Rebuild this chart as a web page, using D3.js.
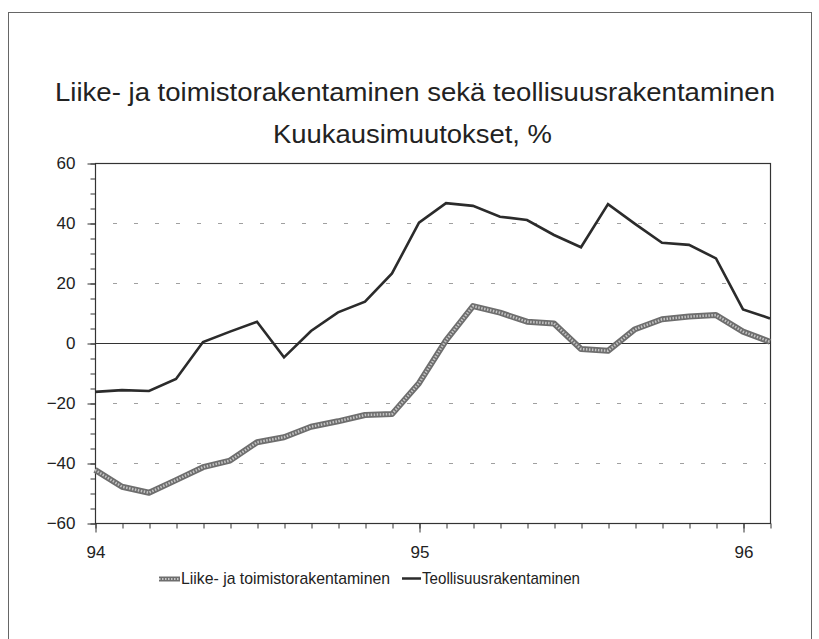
<!DOCTYPE html>
<html>
<head>
<meta charset="utf-8">
<script src="https://cdn.jsdelivr.net/npm/d3@7"></script>
<style>
body { margin: 0; background: #fff; }
text { font-family: "Liberation Sans Narrow", "Arial Narrow", "Liberation Sans", Arial, sans-serif; fill: #222; }
</style>
</head>
<body>
<div id="chart"></div>
<script>
var width = 819;
var height = 639;

// monthly values, Jan 94 .. Feb 96
var months = d3.range(26);
var liike = [-42.3, -47.9, -49.9, -45.7, -41.4, -39.2, -33.1, -31.4, -27.9, -26.1, -24, -23.7,
             -13.4, 0.9, 12.3, 10.1, 7.1, 6.5, -2, -2.6, 4.6, 7.9, 8.8, 9.3, 3.8, 0.4];
var teollisuus = [-16.3, -15.7, -16, -12, 0.3, 3.8, 7.1, -4.8, 4, 10.2, 13.8, 23.2,
                  40.1, 46.6, 45.7, 42.1, 41, 36, 31.9, 46.3, 39.7, 33.4, 32.7, 28.2, 11.2, 8.2];
var yearTicks = [0, 12, 24];
var yearLabels = ["94", "95", "96"];
var yTicks = [-60, -40, -20, 0, 20, 40, 60];
var gridValues = [-40, -20, 20, 40];
var seriesNames = ["Liike- ja toimistorakentaminen", "Teollisuusrakentaminen"];
var titleLines = ["Liike- ja toimistorakentaminen sekä teollisuusrakentaminen", "Kuukausimuutokset, %"];

var svg = d3.select("#chart").append("svg")
    .attr("width", width)
    .attr("height", height);

// outer frame, open at the bottom edge of the picture
svg.append("rect")
    .attr("x", 8.5).attr("y", 12.5)
    .attr("width", 803).attr("height", 660)
    .attr("fill", "none")
    .attr("stroke", "#666")
    .attr("stroke-width", 1);

/* title */
svg.append("text")
    .attr("x", 415).attr("y", 101)
    .attr("text-anchor", "middle")
    .attr("font-size", 26)
    .attr("textLength", 720)
    .attr("lengthAdjust", "spacingAndGlyphs")
    .text(titleLines[0]);

svg.append("text")
    .attr("x", 412.5).attr("y", 143)
    .attr("text-anchor", "middle")
    .attr("font-size", 26)
    .attr("textLength", 279)
    .attr("lengthAdjust", "spacingAndGlyphs")
    .text(titleLines[1]);

var x = d3.scaleLinear().domain([0, 25]).range([95, 770]);
var y = d3.scaleLinear().domain([-60, 60]).range([523, 163]);

/* dashed gridlines */
svg.append("g")
    .selectAll("line")
    .data(gridValues)
    .enter().append("line")
    .attr("x1", x(0) + 18).attr("x2", x(25) - 4)
    .attr("y1", function (d) { return y(d) + 0.5; })
    .attr("y2", function (d) { return y(d) + 0.5; })
    .attr("stroke", "#a0a0a0")
    .attr("stroke-width", 1)
    .attr("stroke-dasharray", "4,17");

// zero line
svg.append("line")
    .attr("x1", x(0)).attr("x2", x(25))
    .attr("y1", y(0) + 0.5).attr("y2", y(0) + 0.5)
    .attr("stroke", "#333")
    .attr("stroke-width", 1.2);

/* plot frame */
svg.append("rect")
    .attr("x", x(0) + 0.5).attr("y", y(60) + 0.5)
    .attr("width", x(25) - x(0)).attr("height", y(-60) - y(60))
    .attr("fill", "none")
    .attr("stroke", "#333")
    .attr("stroke-width", 1.2);

/* y axis: minor ticks every 5, labels every 20 */
var yMinor = svg.append("g")
    .attr("transform", "translate(" + (x(0) + 0.5) + ",0.5)")
    .call(d3.axisLeft(y).tickValues(d3.range(-60, 61, 5)).tickSize(5).tickFormat(""));

var yMajor = svg.append("g")
    .attr("transform", "translate(" + (x(0) + 0.5) + ",0.5)")
    .call(d3.axisLeft(y).tickValues(yTicks).tickSize(8).tickPadding(12).tickFormat(d3.format("d")));

/* x axis: monthly ticks, years labelled */
var xMinor = svg.append("g")
    .attr("transform", "translate(0.5," + (y(-60) + 0.5) + ")")
    .call(d3.axisBottom(x).tickValues(months).tickSize(5).tickFormat(""));

var xMajor = svg.append("g")
    .attr("transform", "translate(0.5," + (y(-60) + 0.5) + ")")
    .call(d3.axisBottom(x).tickValues(yearTicks).tickSize(9).tickPadding(13)
        .tickFormat(function (d, i) { return yearLabels[i]; }));

svg.selectAll(".domain").remove();
svg.selectAll(".tick line").attr("stroke", "#333");
svg.selectAll(".tick text")
    .attr("font-size", 17)
    .attr("fill", "#222")
    .style("font-family", "'Liberation Sans Narrow', 'Arial Narrow', 'Liberation Sans', Arial, sans-serif");

/* lines */
var line = d3.line()
    .x(function (d, i) { return x(i); })
    .y(function (d) { return y(d); });

// patterned grey line, drawn as two strokes
svg.append("path")
    .datum(liike)
    .attr("d", line)
    .attr("fill", "none")
    .attr("stroke", "#6e6e6e")
    .attr("stroke-width", 6)
    .attr("stroke-linejoin", "round");

svg.append("path")
    .datum(liike)
    .attr("d", line)
    .attr("fill", "none")
    .attr("stroke", "#c4c4c4")
    .attr("stroke-width", 2.5)
    .attr("stroke-dasharray", "1.5,1.5");

svg.append("path")
    .datum(teollisuus)
    .attr("d", line)
    .attr("fill", "none")
    .attr("stroke", "#2b2b2b")
    .attr("stroke-width", 2.6)
    .attr("stroke-linejoin", "miter");

/* legend */
var legend = svg.append("g");

legend.append("line")
    .attr("x1", 159).attr("x2", 180)
    .attr("y1", 579).attr("y2", 579)
    .attr("stroke", "#6e6e6e").attr("stroke-width", 5);
legend.append("line")
    .attr("x1", 159).attr("x2", 180)
    .attr("y1", 579).attr("y2", 579)
    .attr("stroke", "#c4c4c4").attr("stroke-width", 2)
    .attr("stroke-dasharray", "1.5,1.5");
legend.append("text")
    .attr("x", 181).attr("y", 584)
    .attr("font-size", 17)
    .attr("textLength", 209)
    .attr("lengthAdjust", "spacingAndGlyphs")
    .text(seriesNames[0]);

legend.append("line")
    .attr("x1", 402).attr("x2", 421)
    .attr("y1", 578.5).attr("y2", 578.5)
    .attr("stroke", "#2b2b2b").attr("stroke-width", 2.5);
legend.append("text")
    .attr("x", 422).attr("y", 584)
    .attr("font-size", 17)
    .attr("textLength", 158)
    .attr("lengthAdjust", "spacingAndGlyphs")
    .text(seriesNames[1]);
</script>
</body>
</html>
